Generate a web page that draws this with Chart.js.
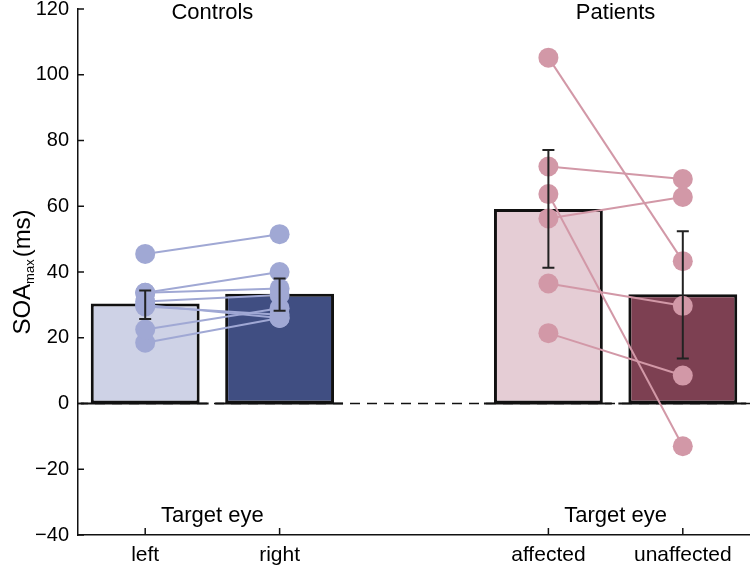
<!DOCTYPE html>
<html>
<head>
<meta charset="utf-8">
<script src="https://cdn.jsdelivr.net/npm/chart.js@4/dist/chart.umd.min.js"></script>
<style>
  html, body { margin: 0; padding: 0; background: #fff; }
  #wrap { width: 750px; height: 569px; }
</style>
</head>
<body>
<div id="wrap"><canvas id="soaChart"></canvas></div>
<script>
// data
const xPos = [1, 2, 4, 5]
const categories = ['left', 'right', 'affected', 'unaffected']
const groups = ['Controls', 'Patients']
const barMeans = [30.4, 33.4, 59.2, 33.2]
const errLow = [25.7, 28.2, 41.3, 13.7]
const errHigh = [34.4, 38.0, 77.1, 52.4]
const ctrlLeft = [45.5, 33.7, 33.7, 31, 30, 29.5, 22.5, 18.5]
const ctrlRight = [51.5, 40, 35, 33, 26, 27, 29, 26]
const patAffected = [105.2, 72.1, 63.7, 56.3, 36.5, 21.4]
const patUnaffected = [43.3, 68.3, -13, 62.8, 29.7, 8.5]
const yTicks = [-40, -20, 0, 20, 40, 60, 80, 100, 120]

const barFill = ['#ced2e6', '#404e82', '#e5cdd5', '#7d4052']
const ctrlColor = '#a0a8d4'
const patColor = '#d298a7'
const FONT = 'Liberation Sans, Arial, sans-serif'

let datasets = [{
  type: 'bar',
  data: xPos.map((x, i) => ({ x: x, y: barMeans[i] })),
  backgroundColor: barFill,
  borderColor: '#111',
  borderWidth: 3,
  borderSkipped: false,
  categoryPercentage: 1,
  barPercentage: 0.81,
  order: 10
}]

function addPairs(a, b, xa, xb, color) {
  a.forEach((v, i) => {
    datasets.push({
      type: 'line',
      data: [{ x: xa, y: v }, { x: xb, y: b[i] }],
      borderColor: color,
      borderWidth: 2,
      pointBackgroundColor: color,
      pointBorderWidth: 0,
      pointRadius: 10,
      fill: false,
      order: 1
    })
  })
}
addPairs(ctrlLeft, ctrlRight, xPos[0], xPos[1], ctrlColor)
addPairs(patAffected, patUnaffected, xPos[2], xPos[3], patColor)

const extras = {
  id: 'extras',
  beforeDatasetsDraw(chart) {
    const { ctx, chartArea, scales } = chart
    const y0 = scales.y.getPixelForValue(0)
    ctx.save()
    ctx.strokeStyle = '#111'
    ctx.lineWidth = 1.5
    ctx.setLineDash([10, 7])
    ctx.beginPath()
    ctx.moveTo(chartArea.left, y0)
    ctx.lineTo(chartArea.right, y0)
    ctx.stroke()
    ctx.setLineDash([])
    ctx.lineWidth = 2
    chart.getDatasetMeta(0).data.forEach(bar => {
      ctx.beginPath()
      ctx.moveTo(bar.x - bar.width / 2 - 10, y0)
      ctx.lineTo(bar.x + bar.width / 2 + 9, y0)
      ctx.stroke()
    })
    ctx.restore()
  },
  afterDatasetsDraw(chart) {
    const { ctx, scales } = chart
    ctx.save()
    ctx.strokeStyle = '#222'
    ctx.lineWidth = 2
    xPos.forEach((x, i) => {
      const px = scales.x.getPixelForValue(x)
      const top = scales.y.getPixelForValue(errHigh[i])
      const bot = scales.y.getPixelForValue(errLow[i])
      ctx.beginPath()
      ctx.moveTo(px, top); ctx.lineTo(px, bot)
      ctx.moveTo(px - 6, top); ctx.lineTo(px + 6, top)
      ctx.moveTo(px - 6, bot); ctx.lineTo(px + 6, bot)
      ctx.stroke()
    })
    ctx.restore()
  },
  afterDraw(chart) {
    const { ctx, chartArea, scales } = chart
    ctx.save()
    ctx.strokeStyle = '#111'
    ctx.lineWidth = 1.5
    // inward ticks
    yTicks.forEach(v => {
      const py = scales.y.getPixelForValue(v)
      ctx.beginPath()
      ctx.moveTo(chartArea.left, py); ctx.lineTo(chartArea.left + 6, py)
      ctx.stroke()
    })
    xPos.forEach(x => {
      const px = scales.x.getPixelForValue(x)
      ctx.beginPath()
      ctx.moveTo(px, chartArea.bottom); ctx.lineTo(px, chartArea.bottom - 7)
      ctx.stroke()
    })
    ctx.fillStyle = '#000'
    ctx.font = '22px ' + FONT
    ctx.textAlign = 'center'
    ctx.textBaseline = 'middle'
    // group titles
    ctx.fillText(groups[0], scales.x.getPixelForValue((xPos[0] + xPos[1]) / 2), 13)
    ctx.fillText(groups[1], scales.x.getPixelForValue((xPos[2] + xPos[3]) / 2), 13)
    // target eye labels
    ctx.fillText('Target eye', scales.x.getPixelForValue((xPos[0] + xPos[1]) / 2), 516)
    ctx.fillText('Target eye', scales.x.getPixelForValue((xPos[2] + xPos[3]) / 2), 516)
    // y title with subscript
    ctx.translate(30, (chartArea.top + chartArea.bottom) / 2)
    ctx.rotate(-Math.PI / 2)
    ctx.textAlign = 'left'
    ctx.textBaseline = 'alphabetic'
    const p1 = 'SOA', p2 = 'max', p3 = '(ms)'
    ctx.font = '24px ' + FONT
    const w1 = ctx.measureText(p1).width
    const w3 = ctx.measureText(p3).width
    ctx.font = '13px ' + FONT
    const w2 = ctx.measureText(p2).width
    let sx = -(w1 + w2 + w3 + 2) / 2
    ctx.font = '24px ' + FONT
    ctx.fillText(p1, sx, 0)
    ctx.font = '13px ' + FONT
    ctx.fillText(p2, sx + w1, 4)
    ctx.font = '24px ' + FONT
    ctx.fillText(p3, sx + w1 + w2 + 2, 0)
    ctx.restore()
  }
}

let chart = new Chart(document.getElementById('soaChart').getContext('2d'), {
  type: 'bar',
  data: { datasets: datasets },
  options: {
    responsive: true,
    maintainAspectRatio: false,
    animation: false,
    layout: { autoPadding: false, padding: { top: 9, right: 0, left: 0, bottom: 0 } },
    plugins: { legend: { display: false }, tooltip: { enabled: false } },
    scales: {
      x: {
        type: 'linear',
        offset: false,
        min: 0.5,
        max: 5.5,
        afterBuildTicks: s => { s.ticks = xPos.map(v => ({ value: v })) },
        afterFit: s => { s.height = 34; s.paddingLeft = 0; s.paddingRight = 0 },
        grid: { display: false, drawTicks: false, offset: false },
        border: { display: true, color: '#111', width: 1.5 },
        ticks: {
          autoSkip: false,
          maxRotation: 0,
          padding: 8,
          color: '#000',
          font: { family: FONT, size: 21 },
          callback: (v) => categories[xPos.indexOf(v)]
        }
      },
      y: {
        min: -40,
        max: 120,
        afterBuildTicks: s => { s.ticks = yTicks.map(v => ({ value: v })) },
        afterFit: s => { s.width = 78; s.paddingTop = 0; s.paddingBottom = 0 },
        grid: { display: false, drawTicks: false },
        border: { display: true, color: '#111', width: 1.5 },
        ticks: {
          padding: 9,
          color: '#000',
          font: { family: FONT, size: 20 },
          callback: v => (v < 0 ? '\u2212' + Math.abs(v) : v)
        }
      }
    }
  },
  plugins: [extras]
})
</script>
</body>
</html>
